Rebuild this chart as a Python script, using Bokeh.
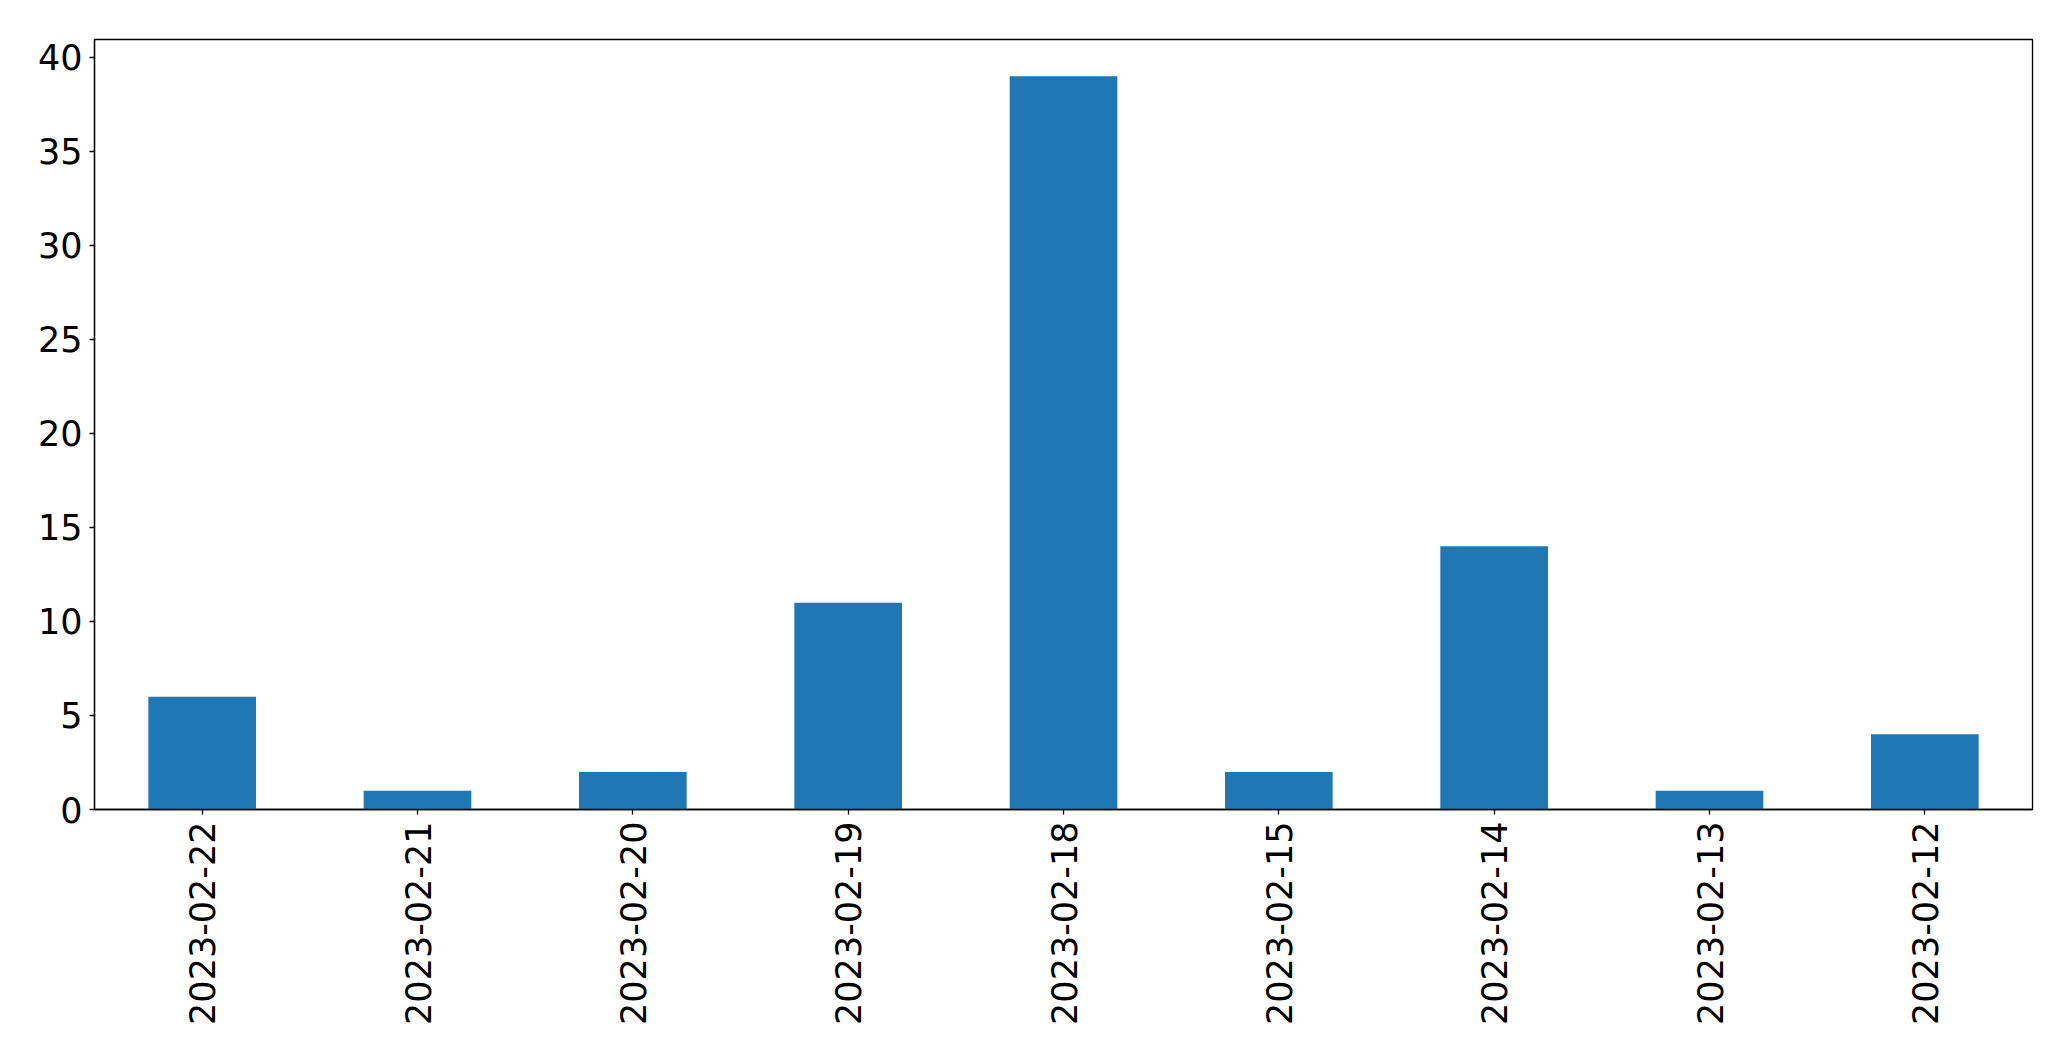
from bokeh.plotting import figure
from bokeh.models import FactorRange, Range1d, FixedTicker
from bokeh.embed import file_html
from bokeh.resources import INLINE
import math

dates = ["2023-02-22", "2023-02-21", "2023-02-20", "2023-02-19", "2023-02-18",
         "2023-02-15", "2023-02-14", "2023-02-13", "2023-02-12"]
counts = [6, 1, 2, 11, 39, 2, 14, 1, 4]
y_ticks = [0, 5, 10, 15, 20, 25, 30, 35, 40]

p = figure(x_range=FactorRange(*dates, range_padding=0),
           y_range=Range1d(0, 40.95),
           width=2058, height=1053,
           output_backend="svg", toolbar_location=None,
           min_border_left=94, min_border_right=26,
           min_border_top=39, min_border_bottom=244)

p.vbar(x=dates, top=counts, width=0.5, color="#1f77b4", line_color=None)

p.xgrid.visible = False
p.ygrid.visible = False
p.outline_line_color = "black"
p.outline_line_width = 1.3
p.outline_line_alpha = 1

for ax in (p.xaxis[0], p.yaxis[0]):
    ax.axis_line_color = "black"
    ax.axis_line_width = 1.3
    ax.major_tick_line_color = "black"
    ax.major_tick_line_width = 1.3
    ax.major_tick_out = 5
    ax.major_tick_in = 0
    ax.minor_tick_line_color = None
    ax.major_label_text_font = "DejaVu Sans"
    ax.major_label_text_font_size = "35px"
    ax.major_label_text_color = "black"
    ax.major_label_standoff = 7

p.yaxis.ticker = FixedTicker(ticks=y_ticks)
p.xaxis.major_label_orientation = math.pi / 2

open("out.html", "w").write(file_html(p, INLINE))
